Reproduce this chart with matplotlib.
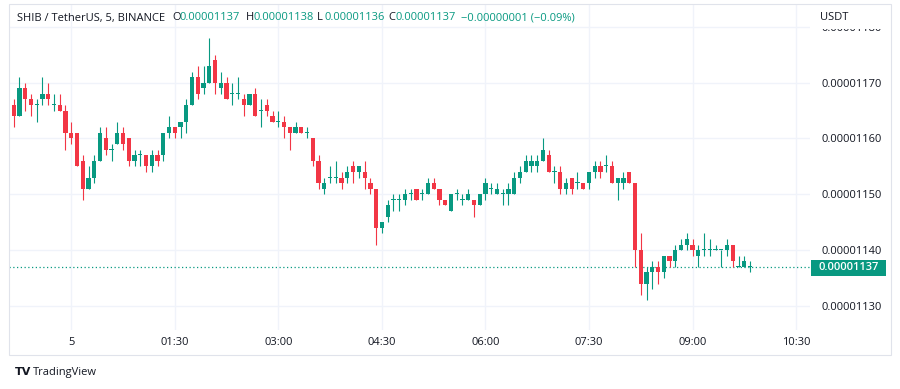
import matplotlib
matplotlib.use("Agg")
import matplotlib.pyplot as plt
from matplotlib.patches import Rectangle
from matplotlib.ticker import FuncFormatter, FixedLocator
import numpy as np

# ---- data (prices in units of 1e-8 USDT) ----
opens = [1157, 1166, 1164, 1169, 1167, 1166, 1167, 1168, 1166, 1166,
         1165, 1161, 1161, 1156, 1151, 1153, 1156, 1160, 1158, 1159,
         1161, 1160, 1156, 1157, 1157, 1155, 1157, 1157, 1161, 1162,
         1162, 1163, 1166, 1171, 1169, 1170, 1174, 1169, 1170, 1168,
         1168, 1167, 1166, 1168, 1165, 1166, 1164, 1163, 1163, 1162,
         1161, 1162, 1161, 1160, 1156, 1151, 1153, 1153, 1153, 1153,
         1155, 1154, 1154, 1152, 1151, 1144, 1146, 1149, 1149, 1149,
         1150, 1151, 1150, 1150, 1152, 1151, 1149, 1147, 1150, 1149,
         1149, 1149, 1148, 1150, 1151, 1150, 1150, 1150, 1150, 1153,
         1154, 1155, 1155, 1156, 1157, 1154, 1154, 1151, 1153, 1152,
         1152, 1152, 1154, 1155, 1155, 1155, 1152, 1152, 1154, 1152,
         1140, 1134, 1136, 1137, 1136, 1139, 1138, 1140, 1141, 1141,
         1139, 1140, 1140, 1140, 1140, 1140, 1141, 1137, 1137, 1137]
highs = [1165, 1167, 1171, 1170, 1168, 1167, 1171, 1170, 1168, 1168,
         1166, 1163, 1161, 1157, 1155, 1157, 1162, 1162, 1159, 1163,
         1162, 1160, 1158, 1158, 1157, 1158, 1158, 1161, 1164, 1162,
         1163, 1167, 1172, 1173, 1173, 1178, 1175, 1172, 1171, 1170,
         1171, 1168, 1168, 1169, 1167, 1167, 1165, 1165, 1164, 1162,
         1163, 1162, 1162, 1160, 1157, 1153, 1155, 1156, 1154, 1155,
         1156, 1155, 1156, 1153, 1151, 1145, 1149, 1150, 1150, 1151,
         1151, 1151, 1151, 1153, 1153, 1151, 1149, 1150, 1151, 1150,
         1151, 1149, 1150, 1153, 1152, 1152, 1151, 1152, 1154, 1155,
         1157, 1157, 1157, 1160, 1158, 1155, 1155, 1153, 1153, 1154,
         1152, 1154, 1156, 1156, 1157, 1156, 1153, 1154, 1154, 1152,
         1143, 1137, 1138, 1138, 1139, 1139, 1141, 1142, 1143, 1142,
         1141, 1143, 1142, 1141, 1140, 1142, 1141, 1139, 1139, 1138]
lows = [1157, 1162, 1164, 1165, 1164, 1163, 1166, 1166, 1165, 1165,
        1158, 1159, 1155, 1149, 1151, 1152, 1156, 1157, 1156, 1159,
        1158, 1155, 1155, 1155, 1154, 1154, 1155, 1156, 1160, 1160,
        1160, 1161, 1166, 1167, 1168, 1170, 1168, 1168, 1167, 1166,
        1167, 1164, 1166, 1164, 1162, 1164, 1163, 1162, 1160, 1158,
        1161, 1161, 1160, 1155, 1151, 1150, 1152, 1152, 1151, 1152,
        1152, 1153, 1151, 1150, 1141, 1143, 1145, 1147, 1147, 1148,
        1149, 1149, 1149, 1150, 1151, 1148, 1148, 1147, 1149, 1148,
        1149, 1146, 1148, 1149, 1150, 1150, 1148, 1148, 1150, 1152,
        1154, 1154, 1154, 1156, 1154, 1152, 1150, 1150, 1150, 1151,
        1151, 1151, 1153, 1153, 1154, 1152, 1149, 1151, 1152, 1137,
        1132, 1131, 1133, 1134, 1135, 1137, 1137, 1140, 1140, 1139,
        1137, 1139, 1139, 1140, 1137, 1139, 1137, 1137, 1137, 1136]
closes = [1165, 1164, 1169, 1167, 1166, 1166, 1168, 1167, 1166, 1165,
          1161, 1160, 1155, 1151, 1153, 1156, 1161, 1158, 1158, 1161,
          1159, 1156, 1157, 1157, 1155, 1157, 1156, 1161, 1162, 1161,
          1163, 1166, 1171, 1168, 1170, 1173, 1170, 1170, 1167, 1168,
          1168, 1166, 1168, 1164, 1165, 1165, 1163, 1163, 1162, 1161,
          1162, 1161, 1161, 1156, 1152, 1152, 1153, 1153, 1152, 1154,
          1154, 1155, 1153, 1151, 1144, 1145, 1148, 1149, 1149, 1150,
          1150, 1149, 1150, 1152, 1151, 1149, 1148, 1150, 1150, 1149,
          1150, 1148, 1150, 1152, 1151, 1151, 1150, 1151, 1153, 1154,
          1156, 1156, 1156, 1158, 1154, 1154, 1151, 1152, 1151, 1152,
          1151, 1154, 1155, 1154, 1155, 1152, 1153, 1153, 1152, 1140,
          1134, 1136, 1137, 1136, 1139, 1138, 1140, 1141, 1142, 1140,
          1140, 1140, 1140, 1140, 1140, 1141, 1138, 1137, 1138, 1137]

start_minute = -55          # first bar 23:05 of the previous day
bar_minutes = 5
time_tick_minutes = [0, 90, 180, 270, 360, 450, 540, 630]
time_tick_labels = ["5", "01:30", "03:00", "04:30", "06:00", "07:30", "09:00", "10:30"]
price_ticks = [1130, 1140, 1150, 1160, 1170, 1180]
scale = 1e-8

GREEN = "#089981"
RED = "#f23645"
TXT = "#131722"
GRID = "#f0f3fa"
BORDER = "#e0e3eb"
FONT = "Open Sans"

W, H = 900, 389
fig = plt.figure(figsize=(9, 3.89), dpi=100)
fig.patch.set_facecolor("white")

def fx(px):
    return px / W

def fy(py):
    return 1 - py / H

ax = fig.add_axes([fx(9), fy(330), fx(810) - fx(9), fy(4) - fy(330)])

o = np.array(opens) * scale
h = np.array(highs) * scale
l = np.array(lows) * scale
c = np.array(closes) * scale
idx = np.arange(len(o))
up = c >= o
colors = np.where(up, GREEN, RED)

ax.vlines(idx, l, h, colors=colors, linewidth=0.8, zorder=3)
body_bottom = np.minimum(o, c)
body_h = np.maximum(np.abs(c - o), 0.16 * scale)
ax.bar(idx, body_h, bottom=body_bottom, width=0.74, color=colors,
       linewidth=0, zorder=4)

ax.set_xlim(0.18, 139.42)
ax.set_ylim(1125.68 * scale, 1184.1 * scale)

# grid / ticks
tick_idx = [(m - start_minute) / bar_minutes for m in time_tick_minutes]
ax.xaxis.set_major_locator(FixedLocator(tick_idx))
ax.set_xticklabels(time_tick_labels)
ax.yaxis.set_major_locator(FixedLocator([p * scale for p in price_ticks]))
ax.yaxis.set_major_formatter(FuncFormatter(lambda v, pos: f"{v:.8f}"))
ax.yaxis.tick_right()
ax.grid(True, color=GRID, linewidth=1, zorder=0)
ax.set_axisbelow(True)
ax.tick_params(axis="both", length=0, labelsize=8, labelcolor=TXT)
ax.tick_params(axis="y", pad=8)
ax.tick_params(axis="x", pad=5)
for lab in ax.get_xticklabels() + ax.get_yticklabels():
    lab.set_fontfamily(FONT)
for s in ax.spines.values():
    s.set_visible(False)

# last price line
ax.axhline(closes[-1] * scale, color=GREEN, linestyle=(0, (1, 2)), linewidth=0.9, zorder=2)

# cover for partially hidden top label + currency label
fig.patches.append(Rectangle((fx(812), fy(28.5)), fx(890) - fx(812), fy(5) - fy(28.5),
                             transform=fig.transFigure, facecolor="white",
                             edgecolor="none", zorder=10))
fig.text(fx(820), fy(17), "USDT", fontsize=8, color=TXT, family=FONT,
         va="center", ha="left", zorder=11)

# last price label box
fig.patches.append(Rectangle((fx(811), fy(276)), fx(886) - fx(811), fy(260) - fy(276),
                             transform=fig.transFigure, facecolor=GREEN,
                             edgecolor="none", zorder=10))
fig.text(fx(848.5), fy(268), f"{closes[-1] * scale:.8f}", fontsize=8, color="white",
         family=FONT, weight="semibold", va="center", ha="center", zorder=11)

# widget border
fig.patches.append(Rectangle((fx(9), fy(355)), fx(891) - fx(9), fy(4) - fy(355),
                             transform=fig.transFigure, facecolor="none",
                             edgecolor=BORDER, linewidth=0.8, zorder=12))

# header legend
hy = fy(18)
fig.text(fx(17), hy, "SHIB / TetherUS, 5, BINANCE", fontsize=8, color=TXT,
         family=FONT, va="center")
prev_close = closes[-2]
chg = closes[-1] - prev_close
pct = chg / prev_close * 100
pieces = [(172, "O", opens[-1]), (246, "H", highs[-1]), (317, "L", lows[-1]), (388, "C", closes[-1])]
for xpos, letter, val in pieces:
    fig.text(fx(xpos), hy, letter, fontsize=8, color=TXT, family=FONT, va="center")
    fig.text(fx(xpos + 7.5), hy, f"{val * scale:.8f}", fontsize=8, color=GREEN,
             family=FONT, va="center")
sign = "\u2212" if chg < 0 else "+"
fig.text(fx(461), hy, f"{sign}{abs(chg) * scale:.8f} ({sign}{abs(pct):.2f}%)",
         fontsize=8, color=GREEN, family=[FONT, "DejaVu Sans"], va="center")

# footer logo
fig.text(fx(15), fy(372), "TV", fontsize=8, color=TXT, family="DejaVu Sans",
         weight="bold", va="center")
fig.text(fx(33), fy(372), "TradingView", fontsize=8, color=TXT, family=FONT, va="center")

fig.savefig("out.png", dpi=100)
